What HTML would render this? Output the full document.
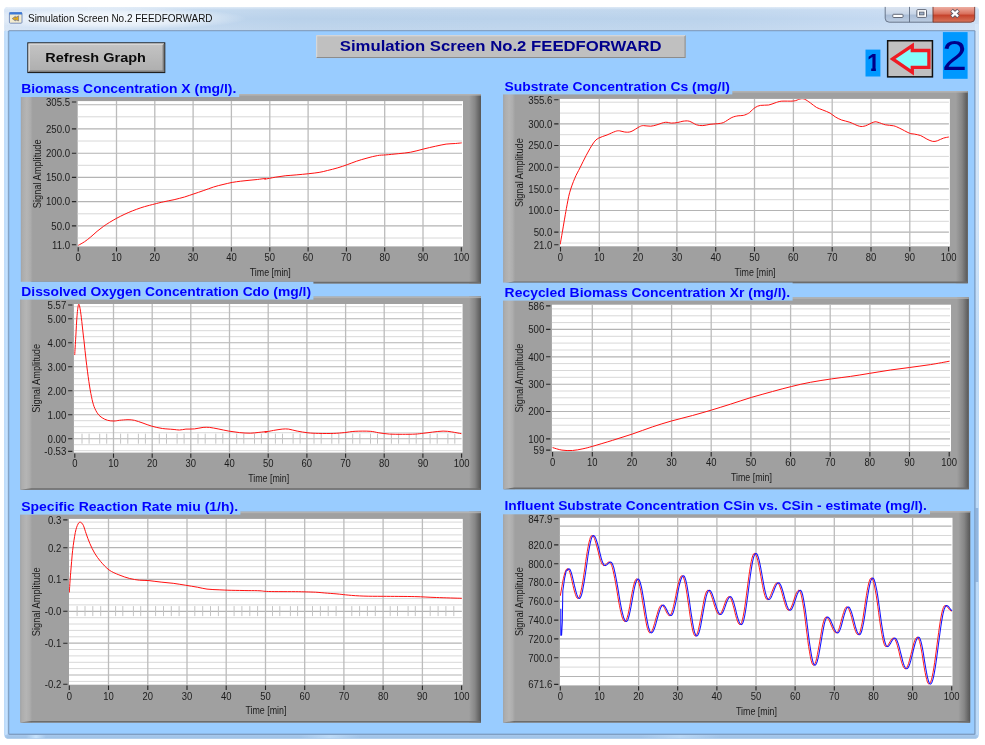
<!DOCTYPE html>
<html lang="en">
<head>
<meta charset="utf-8">
<title>Simulation Screen No.2 FEEDFORWARD</title>
<style>
html,body{margin:0;padding:0;background:#ffffff;overflow:hidden;}
svg{display:block;filter:blur(0.4px);font-family:"Liberation Sans",sans-serif;}
text{white-space:pre;}
</style>
</head>
<body>
<svg width="985" height="745" viewBox="0 0 985 745">
<defs>
<linearGradient id="gFrame" x1="0" y1="0" x2="0" y2="1"><stop offset="0" stop-color="#c6daf1"/><stop offset="1" stop-color="#a8caee"/></linearGradient>
<linearGradient id="gTitle" x1="0" y1="0" x2="1" y2="0"><stop offset="0" stop-color="#d4e3f5"/><stop offset="0.2" stop-color="#bed5ed"/><stop offset="0.3" stop-color="#b9d1ea"/><stop offset="0.72" stop-color="#bbd3ec"/><stop offset="0.9" stop-color="#c4d9f1"/><stop offset="1" stop-color="#cbdef4"/></linearGradient>
<linearGradient id="gTitleV" x1="0" y1="0" x2="0" y2="1"><stop offset="0" stop-color="#ffffff" stop-opacity="0.55"/><stop offset="0.12" stop-color="#ffffff" stop-opacity="0.12"/><stop offset="0.5" stop-color="#ffffff" stop-opacity="0"/><stop offset="1" stop-color="#ffffff" stop-opacity="0.12"/></linearGradient>
<radialGradient id="gGlow" cx="0.5" cy="0.5" r="0.5"><stop offset="0" stop-color="#ffffff" stop-opacity="0.85"/><stop offset="0.6" stop-color="#ffffff" stop-opacity="0.55"/><stop offset="1" stop-color="#ffffff" stop-opacity="0"/></radialGradient>
<linearGradient id="gSideL" x1="0" y1="0" x2="1" y2="0"><stop offset="0" stop-color="#b2d6fa"/><stop offset="0.45" stop-color="#cae4ff"/><stop offset="1" stop-color="#a6ccf0"/></linearGradient>
<linearGradient id="gSideR" x1="0" y1="0" x2="1" y2="0"><stop offset="0" stop-color="#a6ccf0"/><stop offset="0.55" stop-color="#c2defa"/><stop offset="1" stop-color="#b4d6f8"/></linearGradient>
<linearGradient id="gSideRT" x1="0" y1="0" x2="0" y2="1"><stop offset="0" stop-color="#d6e7f9"/><stop offset="0.6" stop-color="#d6e7f9" stop-opacity="0.8"/><stop offset="1" stop-color="#d6e7f9" stop-opacity="0"/></linearGradient>
<linearGradient id="gGlint" x1="0" y1="0" x2="1" y2="0"><stop offset="0" stop-color="#c6e2fc" stop-opacity="0"/><stop offset="0.5" stop-color="#c6e2fc" stop-opacity="1"/><stop offset="1" stop-color="#c6e2fc" stop-opacity="0"/></linearGradient>
<linearGradient id="gBot" x1="0" y1="0" x2="0" y2="1"><stop offset="0" stop-color="#aacbee"/><stop offset="1" stop-color="#9cbfe4"/></linearGradient>
<linearGradient id="gBtn" x1="0" y1="0" x2="0" y2="1"><stop offset="0" stop-color="#dde6f2"/><stop offset="0.48" stop-color="#c6d4e6"/><stop offset="0.52" stop-color="#a9bcd6"/><stop offset="1" stop-color="#bccde2"/></linearGradient>
<linearGradient id="gClose" x1="0" y1="0" x2="0" y2="1"><stop offset="0" stop-color="#eeb0a4"/><stop offset="0.45" stop-color="#d9705c"/><stop offset="0.55" stop-color="#c6432c"/><stop offset="1" stop-color="#d8765c"/></linearGradient>
<linearGradient id="gBtnFace" x1="0" y1="0" x2="0" y2="1"><stop offset="0" stop-color="#c4c4c4"/><stop offset="1" stop-color="#aeaeae"/></linearGradient>
<linearGradient id="gPL" x1="0" y1="0" x2="1" y2="0"><stop offset="0" stop-color="#a4a4a4"/><stop offset="0.15" stop-color="#adadad"/><stop offset="0.5" stop-color="#b5b5b5"/><stop offset="0.8" stop-color="#adadad"/><stop offset="1" stop-color="#a0a0a0"/></linearGradient>
<linearGradient id="gPR" x1="0" y1="0" x2="1" y2="0"><stop offset="0" stop-color="#a0a0a0"/><stop offset="0.5" stop-color="#868686"/><stop offset="1" stop-color="#565656"/></linearGradient>
</defs>
<rect x="0" y="0" width="985" height="745" fill="#ffffff"/>
<rect x="4.4" y="6.9" width="974.3" height="731.7" rx="3.5" ry="3.5" fill="url(#gFrame)"/>
<rect x="4.4" y="6.9" width="974.3" height="24.2" rx="3.5" ry="3.5" fill="url(#gTitle)"/>
<rect x="4.4" y="6.9" width="974.3" height="24.2" rx="3.5" ry="3.5" fill="url(#gTitleV)"/>
<ellipse cx="112" cy="18.5" rx="135" ry="11.5" fill="url(#gGlow)"/>
<rect x="4.4" y="31" width="4.2" height="704" fill="url(#gSideL)"/>
<rect x="975.0" y="31" width="3.7" height="704" fill="url(#gSideR)"/>
<rect x="975.0" y="24" width="3.7" height="330" fill="url(#gSideRT)"/>
<rect x="975.6" y="508" width="2.6" height="74" fill="#7fa6d6" opacity="0.7"/>
<rect x="6.5" y="734.4" width="970" height="4.2" fill="url(#gBot)"/>
<rect x="26" y="735" width="20" height="3.3" fill="url(#gGlint)"/>
<rect x="300" y="735" width="60" height="3.3" fill="url(#gGlint)" opacity="0.7"/>
<rect x="640" y="735" width="80" height="3.3" fill="url(#gGlint)" opacity="0.6"/>
<rect x="8.3" y="30.2" width="967.1" height="704.6" rx="1" fill="#7390b4"/>
<rect x="9.2" y="31.2" width="965.2" height="702.5" fill="#99ccff"/>
<rect x="9.4" y="12.6" width="12.6" height="10.6" rx="1" fill="#f3ecd0" stroke="#6c86b8" stroke-width="0.9"/>
<rect x="9.4" y="12.3" width="12.6" height="2.2" fill="#3a78d8"/>
<path d="M12.2,18.6 L15.4,16.2 L15.4,17.6 L18.6,15.8 L18.6,21 L15.4,19.8 L15.4,21 Z" fill="#e0a818" stroke="#4a5a9a" stroke-width="0.5"/>
<text x="28.00" y="21.50" font-size="11" fill="#101010" textLength="184.50" lengthAdjust="spacingAndGlyphs" >Simulation Screen No.2 FEEDFORWARD</text>
<path d="M885.2,6.9 L885.2,18.2 Q885.2,22.2 889.2,22.2 L933,22.2 L933,6.9 Z" fill="url(#gBtn)"/>
<path d="M933,6.9 L933,22.2 L970.7,22.2 Q974.7,22.2 974.7,18.2 L974.7,6.9 Z" fill="url(#gClose)"/>
<path d="M885.2,6.9 L885.2,18.2 Q885.2,22.2 889.2,22.2 L933,22.2" fill="none" stroke="#5d6b80" stroke-width="0.9"/>
<path d="M933,6.9 L933,22.2 L970.7,22.2 Q974.7,22.2 974.7,18.2 L974.7,6.9" fill="none" stroke="#70362e" stroke-width="0.9"/>
<line x1="909.5" y1="6.9" x2="909.5" y2="22.2" stroke="#5d6b80" stroke-width="0.9"/>
<rect x="892.8" y="14.3" width="10.2" height="3.2" rx="0.8" fill="#ffffff" stroke="#535a6a" stroke-width="0.9"/>
<rect x="916.9" y="9.6" width="9.6" height="7.8" rx="0.8" fill="#ffffff" stroke="#535a6a" stroke-width="0.9"/>
<rect x="919.4" y="12.1" width="4.6" height="2.8" fill="#9fb0c8" stroke="#535a6a" stroke-width="0.8"/>
<path d="M951.5,10.3 L958.5,16.7 M958.5,10.3 L951.5,16.7" stroke="#5c5663" stroke-width="4.0"/>
<path d="M951.9,10.7 L958.1,16.3 M958.1,10.7 L951.9,16.3" stroke="#ffffff" stroke-width="2.3"/>
<rect x="27.3" y="42.3" width="138" height="30.8" fill="#202020"/>
<rect x="28.4" y="43.4" width="135.8" height="28.6" fill="url(#gBtnFace)"/>
<path d="M28.4,72 L28.4,43.4 L164.2,43.4 L162.6,45 L30,45 L30,70.4 Z" fill="#d6d6d6"/>
<path d="M28.4,72 L164.2,72 L164.2,43.4 L162.6,45 L162.6,70.4 L30,70.4 Z" fill="#7e7e7e"/>
<text x="45.30" y="62.00" font-size="12.8" fill="#0a0a0a" font-weight="bold" textLength="100.60" lengthAdjust="spacingAndGlyphs" >Refresh Graph</text>
<rect x="316.2" y="35.2" width="369.4" height="22.9" fill="#c0c0c0"/>
<path d="M316.2,58.1 L316.2,35.2 L685.6,35.2 L684.6,36.2 L317.2,36.2 L317.2,57.1 Z" fill="#dcdcdc"/>
<path d="M316.2,58.1 L685.6,58.1 L685.6,35.2 L684.6,36.2 L684.6,57.1 L317.2,57.1 Z" fill="#8c8c8c"/>
<text x="339.80" y="51.00" font-size="14.5" fill="#00008c" font-weight="bold" textLength="321.80" lengthAdjust="spacingAndGlyphs" >Simulation Screen No.2 FEEDFORWARD</text>
<rect x="865.5" y="49.6" width="14.9" height="26.9" fill="#0098ff"/>
<clipPath id="cp1"><path d="M864,48 H882 V67.6 H875.9 V73 H871.2 V67.6 H864 Z"/></clipPath>
<text x="873.55" y="71.40" font-size="23.2" fill="#000088" font-weight="bold" text-anchor="middle" clip-path="url(#cp1)">1</text>
<rect x="886.9" y="40" width="46.3" height="37.6" fill="#101010"/>
<rect x="888.4" y="41.5" width="43.3" height="34.6" fill="#c0c0c0"/>
<path d="M892.6,58.9 L912.3,45.6 L912.3,50.5 L928.9,50.5 L928.9,67.4 L912.3,67.4 L912.3,72.4 Z" fill="#84fcfc" stroke="#ee1c24" stroke-width="3.3" stroke-linejoin="miter"/>
<rect x="942.9" y="32.1" width="24.7" height="46.7" fill="#0098ff"/>
<text x="954.50" y="69.90" font-size="42.8" fill="#000088" text-anchor="middle" textLength="25.00" lengthAdjust="spacingAndGlyphs" >2</text>
<rect x="20.9" y="94" width="460.1" height="189.4" fill="#a0a0a0"/>
<rect x="20.9" y="94" width="11.8" height="189.4" fill="url(#gPL)"/>
<rect x="469.0" y="94" width="12" height="189.4" fill="url(#gPR)"/>
<rect x="20.9" y="94" width="460.1" height="1.6" fill="#b6b6b6" opacity="0.8"/>
<path d="M20.9,283.4 L31.9,281.79999999999995 L480,281.79999999999995 L481,283.4 Z" fill="#6c6c6c"/>
<rect x="20.5" y="80" width="218.7" height="17.0" fill="#99ccff"/>
<text x="21.20" y="93.35" font-size="13.6" fill="#0000ff" font-weight="bold" textLength="215.10" lengthAdjust="spacingAndGlyphs" >Biomass Concentration X (mg/l).</text>
<rect x="77.7" y="101.1" width="385.3" height="145.3" fill="#ffffff"/>
<path d="M77.7,116.8H462M77.7,141.0H462M77.7,165.3H462M77.7,189.5H462M77.7,213.8H462M77.7,238.0H462" stroke="#d8d8d8" stroke-width="1" fill="none"/>
<path d="M77.7,104.7H462M77.7,128.9H462M77.7,153.2H462M77.7,177.4H462M77.7,201.6H462M77.7,225.9H462" stroke="#b4b4b4" stroke-width="1.15" fill="none"/>
<path d="M116.5,101.1V246.4M154.8,101.1V246.4M193.1,101.1V246.4M231.4,101.1V246.4M269.8,101.1V246.4M308.1,101.1V246.4M346.4,101.1V246.4M384.7,101.1V246.4M423.0,101.1V246.4" stroke="#bcbcbc" stroke-width="1.3" fill="none"/>
<clipPath id="cp77_101"><rect x="77.7" y="101.1" width="385.3" height="145.3"/></clipPath>
<path d="M78.3,245.3C79.4,244.7 82.5,243.1 84.6,241.7C86.6,240.3 88.7,238.7 90.8,236.9C92.9,235.2 95.0,233.1 97.1,231.3C99.1,229.6 101.2,228.0 103.3,226.5C105.4,225.0 107.3,223.8 109.5,222.4C111.8,221.0 114.4,219.5 116.8,218.2C119.3,216.9 121.5,215.7 124.1,214.5C126.7,213.2 129.7,212.0 132.4,210.9C135.2,209.8 138.2,208.7 140.8,207.8C143.4,206.9 145.8,206.3 148.0,205.7C150.3,205.1 151.7,204.7 154.3,204.1C156.9,203.4 160.4,202.5 163.7,201.8C166.9,201.0 170.6,200.5 174.1,199.7C177.5,198.9 181.2,197.9 184.5,197.0C187.8,196.0 190.7,194.9 193.8,193.9C197.0,192.8 199.9,191.9 203.2,190.7C206.5,189.6 210.3,188.0 213.6,187.0C216.9,185.9 219.8,185.3 223.0,184.5C226.1,183.7 229.4,183.0 232.3,182.4C235.3,181.9 237.9,181.5 240.7,181.2C243.4,180.8 246.2,180.6 249.0,180.3C251.8,180.1 254.5,179.8 257.3,179.5C260.1,179.2 264.3,178.5 265.6,178.5C266.9,178.4 263.4,179.3 265.0,179.1C266.6,178.9 271.9,177.8 275.4,177.2C278.9,176.7 282.3,176.1 285.8,175.7C289.3,175.4 292.4,175.3 296.2,174.9C300.0,174.6 304.9,174.1 308.7,173.7C312.5,173.3 316.0,172.9 319.1,172.4C322.2,171.9 324.3,171.3 327.4,170.5C330.6,169.8 334.5,168.8 337.8,167.8C341.1,166.9 344.1,165.8 347.2,164.7C350.3,163.6 353.3,162.3 356.6,161.2C359.9,160.1 363.5,159.0 367.0,158.1C370.4,157.1 374.3,156.1 377.4,155.6C380.5,155.0 382.2,155.2 385.7,154.9C389.2,154.6 394.0,154.1 398.2,153.7C402.4,153.2 406.5,153.0 410.7,152.2C414.8,151.5 419.0,150.1 423.2,149.1C427.3,148.1 431.8,147.0 435.7,146.2C439.5,145.4 442.8,144.6 446.1,144.1C449.4,143.7 452.8,143.7 455.4,143.5C458.0,143.3 460.6,143.0 461.7,142.9" stroke="#ff1010" stroke-width="1.0" fill="none" stroke-linejoin="round" clip-path="url(#cp77_101)"/>
<text x="70.10" y="105.85" font-size="11" fill="#1c1c1c" text-anchor="end" textLength="24.09" lengthAdjust="spacingAndGlyphs" >305.5</text>
<text x="70.10" y="132.76" font-size="11" fill="#1c1c1c" text-anchor="end" textLength="24.09" lengthAdjust="spacingAndGlyphs" >250.0</text>
<text x="70.10" y="157.01" font-size="11" fill="#1c1c1c" text-anchor="end" textLength="24.09" lengthAdjust="spacingAndGlyphs" >200.0</text>
<text x="70.10" y="181.25" font-size="11" fill="#1c1c1c" text-anchor="end" textLength="24.09" lengthAdjust="spacingAndGlyphs" >150.0</text>
<text x="70.10" y="205.49" font-size="11" fill="#1c1c1c" text-anchor="end" textLength="24.09" lengthAdjust="spacingAndGlyphs" >100.0</text>
<text x="70.10" y="229.74" font-size="11" fill="#1c1c1c" text-anchor="end" textLength="18.73" lengthAdjust="spacingAndGlyphs" >50.0</text>
<text x="70.10" y="248.65" font-size="11" fill="#1c1c1c" text-anchor="end" textLength="18.02" lengthAdjust="spacingAndGlyphs" >11.0</text>
<text x="78.20" y="261.20" font-size="11" fill="#1c1c1c" text-anchor="middle" textLength="5.26" lengthAdjust="spacingAndGlyphs" >0</text>
<text x="116.51" y="261.20" font-size="11" fill="#1c1c1c" text-anchor="middle" textLength="10.52" lengthAdjust="spacingAndGlyphs" >10</text>
<text x="154.82" y="261.20" font-size="11" fill="#1c1c1c" text-anchor="middle" textLength="10.52" lengthAdjust="spacingAndGlyphs" >20</text>
<text x="193.13" y="261.20" font-size="11" fill="#1c1c1c" text-anchor="middle" textLength="10.52" lengthAdjust="spacingAndGlyphs" >30</text>
<text x="231.44" y="261.20" font-size="11" fill="#1c1c1c" text-anchor="middle" textLength="10.52" lengthAdjust="spacingAndGlyphs" >40</text>
<text x="269.75" y="261.20" font-size="11" fill="#1c1c1c" text-anchor="middle" textLength="10.52" lengthAdjust="spacingAndGlyphs" >50</text>
<text x="308.06" y="261.20" font-size="11" fill="#1c1c1c" text-anchor="middle" textLength="10.52" lengthAdjust="spacingAndGlyphs" >60</text>
<text x="346.37" y="261.20" font-size="11" fill="#1c1c1c" text-anchor="middle" textLength="10.52" lengthAdjust="spacingAndGlyphs" >70</text>
<text x="384.68" y="261.20" font-size="11" fill="#1c1c1c" text-anchor="middle" textLength="10.52" lengthAdjust="spacingAndGlyphs" >80</text>
<text x="422.99" y="261.20" font-size="11" fill="#1c1c1c" text-anchor="middle" textLength="10.52" lengthAdjust="spacingAndGlyphs" >90</text>
<text x="461.30" y="261.20" font-size="11" fill="#1c1c1c" text-anchor="middle" textLength="15.78" lengthAdjust="spacingAndGlyphs" >100</text>
<path d="M71.9,102.0H76.2M71.9,128.9H76.2M71.9,153.2H76.2M71.9,177.4H76.2M71.9,201.6H76.2M71.9,225.9H76.2M71.9,244.8H76.2M78.2,247.2V251.6M116.5,247.2V251.6M154.8,247.2V251.6M193.1,247.2V251.6M231.4,247.2V251.6M269.8,247.2V251.6M308.1,247.2V251.6M346.4,247.2V251.6M384.7,247.2V251.6M423.0,247.2V251.6M461.3,247.2V251.6" stroke="#262626" stroke-width="1.1" fill="none"/>
<text x="270.25" y="275.90" font-size="10.8" fill="#1c1c1c" text-anchor="middle" textLength="41.00" lengthAdjust="spacingAndGlyphs" >Time [min]</text>
<text x="0.00" y="0.00" font-size="10.8" fill="#1c1c1c" text-anchor="middle" textLength="68.80" lengthAdjust="spacingAndGlyphs" transform="translate(40.7,173.8) rotate(-90)">Signal Amplitude</text>
<rect x="503.3" y="91" width="464.5" height="192.2" fill="#a0a0a0"/>
<rect x="503.3" y="91" width="11.8" height="192.2" fill="url(#gPL)"/>
<rect x="955.8" y="91" width="12" height="192.2" fill="url(#gPR)"/>
<rect x="503.3" y="91" width="464.5" height="1.6" fill="#b6b6b6" opacity="0.8"/>
<path d="M503.3,283.2 L514.3,281.59999999999997 L966.8,281.59999999999997 L967.8,283.2 Z" fill="#6c6c6c"/>
<rect x="503" y="78" width="229.3" height="16.4" fill="#99ccff"/>
<text x="504.60" y="90.55" font-size="13.6" fill="#0000ff" font-weight="bold" textLength="225.30" lengthAdjust="spacingAndGlyphs" >Substrate Concentration Cs (mg/l)</text>
<rect x="560" y="98.9" width="389.9" height="147.4" fill="#ffffff"/>
<path d="M560,102.2H948.9M560,113.1H948.9M560,134.7H948.9M560,156.4H948.9M560,178.0H948.9M560,199.7H948.9M560,221.3H948.9M560,243.0H948.9" stroke="#d8d8d8" stroke-width="1" fill="none"/>
<path d="M560,123.9H948.9M560,145.5H948.9M560,167.2H948.9M560,188.8H948.9M560,210.5H948.9M560,232.1H948.9" stroke="#b4b4b4" stroke-width="1.15" fill="none"/>
<path d="M599.3,98.9V246.3M638.1,98.9V246.3M676.9,98.9V246.3M715.7,98.9V246.3M754.5,98.9V246.3M793.4,98.9V246.3M832.2,98.9V246.3M871.0,98.9V246.3M909.8,98.9V246.3" stroke="#bcbcbc" stroke-width="1.3" fill="none"/>
<clipPath id="cp560_98"><rect x="560" y="98.9" width="389.9" height="147.4"/></clipPath>
<path d="M560.2,244.4C560.5,242.4 561.6,236.4 562.3,232.4C563.0,228.3 563.7,223.9 564.4,219.9C565.1,215.9 565.6,212.9 566.4,208.4C567.3,203.9 568.2,197.8 569.6,192.8C571.0,187.8 573.0,182.4 574.8,178.2C576.5,174.1 578.1,171.7 580.0,167.8C581.9,164.0 584.0,159.5 586.2,155.4C588.5,151.2 591.4,145.7 593.5,142.9C595.6,140.0 596.4,139.4 598.7,138.1C601.0,136.8 604.3,136.1 607.0,135.0C609.8,133.8 613.3,132.1 615.4,131.4C617.4,130.7 618.0,130.7 619.5,130.8C621.1,130.9 622.8,131.9 624.7,132.0C626.6,132.2 628.5,132.5 631.0,131.6C633.4,130.8 637.2,127.8 639.3,126.8C641.4,125.8 641.5,125.7 643.4,125.6C645.4,125.5 648.5,126.4 650.7,126.2C653.0,126.1 654.5,125.4 657.0,124.8C659.4,124.1 662.9,122.5 665.3,122.3C667.7,122.0 669.5,123.1 671.5,123.1C673.6,123.1 675.9,122.8 677.8,122.5C679.7,122.2 681.1,121.4 683.0,121.2C684.9,121.0 687.0,120.6 689.2,121.2C691.5,121.8 694.3,124.0 696.5,124.8C698.8,125.5 700.5,125.7 702.8,125.6C705.0,125.5 707.6,124.7 710.0,124.3C712.5,124.0 715.1,124.0 717.3,123.7C719.6,123.4 721.1,123.5 723.6,122.5C726.0,121.4 729.5,118.6 731.9,117.5C734.3,116.4 736.2,116.2 738.1,115.8C740.1,115.5 741.6,115.8 743.3,115.4C745.1,115.0 747.4,113.9 748.5,113.3C749.7,112.8 748.9,113.0 750.0,112.1C751.1,111.1 753.5,108.6 755.2,107.5C756.9,106.4 758.2,105.8 760.4,105.4C762.7,105.0 766.3,105.4 768.7,105.0C771.2,104.6 772.9,103.5 775.0,102.9C777.1,102.3 778.1,101.6 781.2,101.2C784.3,100.9 790.6,101.4 793.7,101.0C796.8,100.7 798.1,99.3 799.9,99.0C801.8,98.6 802.8,98.5 804.5,99.2C806.3,99.8 808.3,101.5 810.4,102.9C812.4,104.3 814.5,106.3 816.6,107.5C818.7,108.7 820.6,109.0 822.8,110.0C825.1,110.9 828.0,112.0 830.1,113.1C832.2,114.3 833.4,115.7 835.3,116.9C837.2,118.0 839.1,119.1 841.6,120.0C844.0,120.9 846.9,121.2 849.9,122.3C852.8,123.3 856.7,125.6 859.3,126.2C861.9,126.8 863.1,126.5 865.5,125.8C867.9,125.1 871.7,122.6 873.8,122.1C875.9,121.5 876.1,121.8 878.0,122.3C879.9,122.7 882.7,124.2 885.3,124.8C887.9,125.4 891.2,125.2 893.6,125.8C896.0,126.4 897.2,127.1 899.8,128.3C902.4,129.5 906.8,132.1 909.2,133.1C911.6,134.1 912.5,133.7 914.4,134.1C916.3,134.5 918.6,134.8 920.7,135.6C922.7,136.4 924.9,138.1 926.9,139.1C928.9,140.1 931.0,141.1 932.7,141.4C934.5,141.7 935.5,141.3 937.3,140.8C939.1,140.2 941.6,138.7 943.5,138.1C945.5,137.5 947.9,137.2 948.8,137.0" stroke="#ff1010" stroke-width="1.0" fill="none" stroke-linejoin="round" clip-path="url(#cp560_98)"/>
<text x="552.40" y="103.65" font-size="11" fill="#1c1c1c" text-anchor="end" textLength="24.09" lengthAdjust="spacingAndGlyphs" >355.6</text>
<text x="552.40" y="127.73" font-size="11" fill="#1c1c1c" text-anchor="end" textLength="24.09" lengthAdjust="spacingAndGlyphs" >300.0</text>
<text x="552.40" y="149.38" font-size="11" fill="#1c1c1c" text-anchor="end" textLength="24.09" lengthAdjust="spacingAndGlyphs" >250.0</text>
<text x="552.40" y="171.03" font-size="11" fill="#1c1c1c" text-anchor="end" textLength="24.09" lengthAdjust="spacingAndGlyphs" >200.0</text>
<text x="552.40" y="192.69" font-size="11" fill="#1c1c1c" text-anchor="end" textLength="24.09" lengthAdjust="spacingAndGlyphs" >150.0</text>
<text x="552.40" y="214.34" font-size="11" fill="#1c1c1c" text-anchor="end" textLength="24.09" lengthAdjust="spacingAndGlyphs" >100.0</text>
<text x="552.40" y="235.99" font-size="11" fill="#1c1c1c" text-anchor="end" textLength="18.73" lengthAdjust="spacingAndGlyphs" >50.0</text>
<text x="552.40" y="248.55" font-size="11" fill="#1c1c1c" text-anchor="end" textLength="18.73" lengthAdjust="spacingAndGlyphs" >21.0</text>
<text x="560.50" y="261.10" font-size="11" fill="#1c1c1c" text-anchor="middle" textLength="5.26" lengthAdjust="spacingAndGlyphs" >0</text>
<text x="599.31" y="261.10" font-size="11" fill="#1c1c1c" text-anchor="middle" textLength="10.52" lengthAdjust="spacingAndGlyphs" >10</text>
<text x="638.12" y="261.10" font-size="11" fill="#1c1c1c" text-anchor="middle" textLength="10.52" lengthAdjust="spacingAndGlyphs" >20</text>
<text x="676.93" y="261.10" font-size="11" fill="#1c1c1c" text-anchor="middle" textLength="10.52" lengthAdjust="spacingAndGlyphs" >30</text>
<text x="715.74" y="261.10" font-size="11" fill="#1c1c1c" text-anchor="middle" textLength="10.52" lengthAdjust="spacingAndGlyphs" >40</text>
<text x="754.55" y="261.10" font-size="11" fill="#1c1c1c" text-anchor="middle" textLength="10.52" lengthAdjust="spacingAndGlyphs" >50</text>
<text x="793.36" y="261.10" font-size="11" fill="#1c1c1c" text-anchor="middle" textLength="10.52" lengthAdjust="spacingAndGlyphs" >60</text>
<text x="832.17" y="261.10" font-size="11" fill="#1c1c1c" text-anchor="middle" textLength="10.52" lengthAdjust="spacingAndGlyphs" >70</text>
<text x="870.98" y="261.10" font-size="11" fill="#1c1c1c" text-anchor="middle" textLength="10.52" lengthAdjust="spacingAndGlyphs" >80</text>
<text x="909.79" y="261.10" font-size="11" fill="#1c1c1c" text-anchor="middle" textLength="10.52" lengthAdjust="spacingAndGlyphs" >90</text>
<text x="948.60" y="261.10" font-size="11" fill="#1c1c1c" text-anchor="middle" textLength="15.78" lengthAdjust="spacingAndGlyphs" >100</text>
<path d="M554.2,99.8H558.5M554.2,123.9H558.5M554.2,145.5H558.5M554.2,167.2H558.5M554.2,188.8H558.5M554.2,210.5H558.5M554.2,232.1H558.5M554.2,244.7H558.5M560.5,247.1V251.5M599.3,247.1V251.5M638.1,247.1V251.5M676.9,247.1V251.5M715.7,247.1V251.5M754.5,247.1V251.5M793.4,247.1V251.5M832.2,247.1V251.5M871.0,247.1V251.5M909.8,247.1V251.5M948.6,247.1V251.5" stroke="#262626" stroke-width="1.1" fill="none"/>
<text x="755.05" y="275.80" font-size="10.8" fill="#1c1c1c" text-anchor="middle" textLength="41.00" lengthAdjust="spacingAndGlyphs" >Time [min]</text>
<text x="0.00" y="0.00" font-size="10.8" fill="#1c1c1c" text-anchor="middle" textLength="68.80" lengthAdjust="spacingAndGlyphs" transform="translate(523.1,172.6) rotate(-90)">Signal Amplitude</text>
<rect x="20.3" y="296.5" width="460.7" height="193.3" fill="#a0a0a0"/>
<rect x="20.3" y="296.5" width="11.8" height="193.3" fill="url(#gPL)"/>
<rect x="469.0" y="296.5" width="12" height="193.3" fill="url(#gPR)"/>
<rect x="20.3" y="296.5" width="460.7" height="1.6" fill="#b6b6b6" opacity="0.8"/>
<path d="M20.3,489.8 L31.3,488.2 L480,488.2 L481,489.8 Z" fill="#6c6c6c"/>
<rect x="20" y="281.8" width="293.4" height="17.8" fill="#99ccff"/>
<text x="21.30" y="296.05" font-size="13.6" fill="#0000ff" font-weight="bold" textLength="289.70" lengthAdjust="spacingAndGlyphs" >Dissolved Oxygen Concentration Cdo (mg/l)</text>
<rect x="73.9" y="304" width="388.7" height="148.6" fill="#ffffff"/>
<path d="M73.9,450.7H461.6M73.9,444.7H461.6M73.9,432.7H461.6M73.9,426.7H461.6M73.9,420.7H461.6M73.9,408.7H461.6M73.9,402.7H461.6M73.9,396.7H461.6M73.9,384.7H461.6M73.9,378.7H461.6M73.9,372.7H461.6M73.9,360.7H461.6M73.9,354.7H461.6M73.9,348.7H461.6M73.9,336.7H461.6M73.9,330.7H461.6M73.9,324.7H461.6M73.9,312.7H461.6M73.9,306.7H461.6" stroke="#d8d8d8" stroke-width="1" fill="none"/>
<path d="M73.9,318.7H461.6M73.9,342.7H461.6M73.9,366.7H461.6M73.9,390.7H461.6M73.9,414.7H461.6M73.9,438.7H461.6" stroke="#b4b4b4" stroke-width="1.15" fill="none"/>
<path d="M113.5,304V452.6M152.2,304V452.6M190.8,304V452.6M229.5,304V452.6M268.2,304V452.6M306.9,304V452.6M345.6,304V452.6M384.2,304V452.6M422.9,304V452.6" stroke="#bcbcbc" stroke-width="1.3" fill="none"/>
<path d="M82.0,433.7V443.7M89.1,433.7V443.7M99.7,433.7V443.7M106.7,433.7V443.7M120.6,433.7V443.7M127.8,433.7V443.7M138.4,433.7V443.7M145.4,433.7V443.7M159.3,433.7V443.7M166.5,433.7V443.7M177.1,433.7V443.7M184.1,433.7V443.7M198.0,433.7V443.7M205.2,433.7V443.7M215.8,433.7V443.7M222.8,433.7V443.7M236.7,433.7V443.7M243.8,433.7V443.7M254.5,433.7V443.7M261.4,433.7V443.7M275.4,433.7V443.7M282.5,433.7V443.7M293.1,433.7V443.7M300.1,433.7V443.7M314.0,433.7V443.7M321.2,433.7V443.7M331.8,433.7V443.7M338.8,433.7V443.7M352.7,433.7V443.7M359.9,433.7V443.7M370.5,433.7V443.7M377.5,433.7V443.7M391.4,433.7V443.7M398.6,433.7V443.7M409.2,433.7V443.7M416.2,433.7V443.7M430.1,433.7V443.7M437.2,433.7V443.7M447.9,433.7V443.7M454.8,433.7V443.7" stroke="#c4c4c4" stroke-width="1" fill="none"/>
<clipPath id="cp73_304"><rect x="73.9" y="304" width="388.7" height="148.6"/></clipPath>
<path d="M74.7,354.9C74.9,351.8 75.4,343.3 75.8,336.6C76.2,330.0 76.6,320.5 77.1,315.2C77.5,309.8 78.1,305.5 78.6,304.4C79.1,303.4 79.6,305.9 80.1,308.7C80.6,311.6 81.2,316.2 81.8,321.6C82.4,327.0 83.2,334.5 84.0,340.9C84.7,347.4 85.3,353.4 86.1,360.2C86.9,367.0 88.0,375.6 88.9,381.7C89.8,387.8 90.6,392.6 91.5,396.7C92.3,400.8 93.0,403.5 94.0,406.4C95.1,409.3 96.5,412.0 97.9,413.9C99.3,415.8 100.6,416.7 102.2,417.8C103.8,418.8 105.6,419.8 107.6,420.3C109.5,420.9 112.0,421.0 114.0,421.0C116.0,421.0 117.0,420.6 119.4,420.3C121.7,420.1 125.4,419.7 128.0,419.7C130.5,419.7 131.9,419.8 134.4,420.3C136.9,420.9 140.1,422.2 143.0,423.1C145.8,424.1 148.3,425.2 151.6,426.1C154.8,427.0 158.7,428.0 162.3,428.5C165.9,429.0 170.2,429.1 173.0,429.4C175.9,429.6 177.3,430.0 179.5,430.0C181.6,430.0 183.4,429.3 185.9,429.1C188.4,429.0 191.6,429.2 194.5,428.9C197.4,428.6 200.6,427.7 203.1,427.4C205.6,427.2 207.0,427.2 209.5,427.4C212.0,427.7 214.9,428.3 218.1,428.9C221.3,429.5 225.3,430.5 228.8,431.1C232.4,431.7 236.0,432.2 239.6,432.6C243.1,432.9 247.1,433.3 250.3,433.2C253.5,433.2 256.0,432.6 258.9,432.4C261.7,432.1 266.4,431.5 267.5,431.5C268.5,431.5 264.0,432.3 265.0,432.1C266.0,432.0 270.7,430.9 273.6,430.4C276.4,429.9 279.7,429.4 282.2,429.1C284.7,428.9 286.1,428.8 288.6,429.1C291.1,429.5 294.0,430.5 297.2,431.1C300.4,431.7 304.4,432.4 307.9,432.8C311.5,433.2 314.4,433.3 318.7,433.4C323.0,433.5 329.4,433.6 333.7,433.4C338.0,433.3 340.8,432.9 344.4,432.6C348.0,432.2 350.9,431.5 355.1,431.3C359.4,431.1 366.2,431.0 370.2,431.3C374.1,431.5 375.5,432.3 378.8,432.8C382.0,433.3 385.6,433.8 389.5,434.1C393.4,434.3 398.1,434.3 402.4,434.3C406.7,434.3 411.7,434.3 415.2,434.1C418.8,433.9 421.0,433.5 423.8,433.2C426.7,432.9 429.2,432.5 432.4,432.1C435.6,431.8 439.9,431.1 443.1,431.1C446.4,431.0 448.7,431.5 451.7,431.9C454.8,432.4 459.8,433.4 461.4,433.7" stroke="#ff1010" stroke-width="1.0" fill="none" stroke-linejoin="round" clip-path="url(#cp73_304)"/>
<text x="66.30" y="308.85" font-size="11" fill="#1c1c1c" text-anchor="end" textLength="18.73" lengthAdjust="spacingAndGlyphs" >5.57</text>
<text x="66.30" y="322.53" font-size="11" fill="#1c1c1c" text-anchor="end" textLength="18.73" lengthAdjust="spacingAndGlyphs" >5.00</text>
<text x="66.30" y="346.53" font-size="11" fill="#1c1c1c" text-anchor="end" textLength="18.73" lengthAdjust="spacingAndGlyphs" >4.00</text>
<text x="66.30" y="370.53" font-size="11" fill="#1c1c1c" text-anchor="end" textLength="18.73" lengthAdjust="spacingAndGlyphs" >3.00</text>
<text x="66.30" y="394.53" font-size="11" fill="#1c1c1c" text-anchor="end" textLength="18.73" lengthAdjust="spacingAndGlyphs" >2.00</text>
<text x="66.30" y="418.53" font-size="11" fill="#1c1c1c" text-anchor="end" textLength="18.73" lengthAdjust="spacingAndGlyphs" >1.00</text>
<text x="66.30" y="442.53" font-size="11" fill="#1c1c1c" text-anchor="end" textLength="18.73" lengthAdjust="spacingAndGlyphs" >0.00</text>
<text x="66.30" y="455.25" font-size="11" fill="#1c1c1c" text-anchor="end" textLength="21.94" lengthAdjust="spacingAndGlyphs" >-0.53</text>
<text x="74.80" y="467.40" font-size="11" fill="#1c1c1c" text-anchor="middle" textLength="5.26" lengthAdjust="spacingAndGlyphs" >0</text>
<text x="113.48" y="467.40" font-size="11" fill="#1c1c1c" text-anchor="middle" textLength="10.52" lengthAdjust="spacingAndGlyphs" >10</text>
<text x="152.16" y="467.40" font-size="11" fill="#1c1c1c" text-anchor="middle" textLength="10.52" lengthAdjust="spacingAndGlyphs" >20</text>
<text x="190.84" y="467.40" font-size="11" fill="#1c1c1c" text-anchor="middle" textLength="10.52" lengthAdjust="spacingAndGlyphs" >30</text>
<text x="229.52" y="467.40" font-size="11" fill="#1c1c1c" text-anchor="middle" textLength="10.52" lengthAdjust="spacingAndGlyphs" >40</text>
<text x="268.20" y="467.40" font-size="11" fill="#1c1c1c" text-anchor="middle" textLength="10.52" lengthAdjust="spacingAndGlyphs" >50</text>
<text x="306.88" y="467.40" font-size="11" fill="#1c1c1c" text-anchor="middle" textLength="10.52" lengthAdjust="spacingAndGlyphs" >60</text>
<text x="345.56" y="467.40" font-size="11" fill="#1c1c1c" text-anchor="middle" textLength="10.52" lengthAdjust="spacingAndGlyphs" >70</text>
<text x="384.24" y="467.40" font-size="11" fill="#1c1c1c" text-anchor="middle" textLength="10.52" lengthAdjust="spacingAndGlyphs" >80</text>
<text x="422.92" y="467.40" font-size="11" fill="#1c1c1c" text-anchor="middle" textLength="10.52" lengthAdjust="spacingAndGlyphs" >90</text>
<text x="461.60" y="467.40" font-size="11" fill="#1c1c1c" text-anchor="middle" textLength="15.78" lengthAdjust="spacingAndGlyphs" >100</text>
<path d="M68.1,305.0H72.4M68.1,318.7H72.4M68.1,342.7H72.4M68.1,366.7H72.4M68.1,390.7H72.4M68.1,414.7H72.4M68.1,438.7H72.4M68.1,451.4H72.4M74.8,453.4V457.8M113.5,453.4V457.8M152.2,453.4V457.8M190.8,453.4V457.8M229.5,453.4V457.8M268.2,453.4V457.8M306.9,453.4V457.8M345.6,453.4V457.8M384.2,453.4V457.8M422.9,453.4V457.8M461.6,453.4V457.8" stroke="#262626" stroke-width="1.1" fill="none"/>
<text x="268.70" y="482.10" font-size="10.8" fill="#1c1c1c" text-anchor="middle" textLength="41.00" lengthAdjust="spacingAndGlyphs" >Time [min]</text>
<text x="0.00" y="0.00" font-size="10.8" fill="#1c1c1c" text-anchor="middle" textLength="68.80" lengthAdjust="spacingAndGlyphs" transform="translate(40.1,378.3) rotate(-90)">Signal Amplitude</text>
<rect x="503.2" y="297.3" width="465.6" height="191.9" fill="#a0a0a0"/>
<rect x="503.2" y="297.3" width="11.8" height="191.9" fill="url(#gPL)"/>
<rect x="956.8" y="297.3" width="12" height="191.9" fill="url(#gPR)"/>
<rect x="503.2" y="297.3" width="465.6" height="1.6" fill="#b6b6b6" opacity="0.8"/>
<path d="M503.2,489.2 L514.2,487.59999999999997 L967.8,487.59999999999997 L968.8,489.2 Z" fill="#6c6c6c"/>
<rect x="503" y="282.6" width="289.6" height="18.0" fill="#99ccff"/>
<text x="504.60" y="296.75" font-size="13.6" fill="#0000ff" font-weight="bold" textLength="285.50" lengthAdjust="spacingAndGlyphs" >Recycled Biomass Concentration Xr (mg/l).</text>
<rect x="551.9" y="304.7" width="399.1" height="146.6" fill="#ffffff"/>
<path d="M551.9,445.7H950M551.9,432.0H950M551.9,425.2H950M551.9,418.4H950M551.9,404.7H950M551.9,397.8H950M551.9,391.0H950M551.9,377.3H950M551.9,370.5H950M551.9,363.6H950M551.9,350.0H950M551.9,343.1H950M551.9,336.3H950M551.9,322.6H950M551.9,315.8H950M551.9,308.9H950" stroke="#d8d8d8" stroke-width="1" fill="none"/>
<path d="M551.9,329.4H950M551.9,356.8H950M551.9,384.2H950M551.9,411.5H950M551.9,438.9H950" stroke="#b4b4b4" stroke-width="1.15" fill="none"/>
<path d="M592.3,304.7V451.3M631.9,304.7V451.3M671.6,304.7V451.3M711.2,304.7V451.3M750.9,304.7V451.3M790.6,304.7V451.3M830.2,304.7V451.3M869.9,304.7V451.3M909.5,304.7V451.3" stroke="#bcbcbc" stroke-width="1.3" fill="none"/>
<clipPath id="cp551_304"><rect x="551.9" y="304.7" width="399.1" height="146.6"/></clipPath>
<path d="M552.6,447.6C554.1,448.0 558.6,449.6 561.9,450.1C565.2,450.6 568.9,450.7 572.4,450.5C575.9,450.3 579.5,449.5 582.9,448.8C586.3,448.1 587.7,447.7 592.6,446.3C597.5,444.9 605.8,442.4 612.4,440.4C619.0,438.4 625.5,436.3 632.2,434.1C638.9,431.8 645.9,429.1 652.4,426.9C659.0,424.7 664.7,422.9 671.4,421.0C678.1,419.1 685.8,417.4 692.5,415.5C699.1,413.7 705.1,412.0 711.4,410.1C717.7,408.2 723.7,406.3 730.4,404.2C737.1,402.1 744.4,399.5 751.4,397.4C758.5,395.3 765.8,393.4 772.5,391.5C779.2,389.7 785.2,388.0 791.5,386.5C797.8,384.9 803.8,383.5 810.4,382.3C817.1,381.0 824.8,379.9 831.5,378.9C838.2,377.9 844.1,377.3 850.5,376.4C856.8,375.5 862.7,374.5 869.4,373.4C876.1,372.4 883.8,371.0 890.5,370.0C897.2,369.1 902.8,368.4 909.4,367.5C916.1,366.6 923.8,365.6 930.5,364.6C937.2,363.5 946.3,361.8 949.5,361.2" stroke="#ff1010" stroke-width="1.0" fill="none" stroke-linejoin="round" clip-path="url(#cp551_304)"/>
<text x="544.30" y="309.75" font-size="11" fill="#1c1c1c" text-anchor="end" textLength="16.06" lengthAdjust="spacingAndGlyphs" >586</text>
<text x="544.30" y="333.28" font-size="11" fill="#1c1c1c" text-anchor="end" textLength="16.06" lengthAdjust="spacingAndGlyphs" >500</text>
<text x="544.30" y="360.64" font-size="11" fill="#1c1c1c" text-anchor="end" textLength="16.06" lengthAdjust="spacingAndGlyphs" >400</text>
<text x="544.30" y="388.01" font-size="11" fill="#1c1c1c" text-anchor="end" textLength="16.06" lengthAdjust="spacingAndGlyphs" >300</text>
<text x="544.30" y="415.37" font-size="11" fill="#1c1c1c" text-anchor="end" textLength="16.06" lengthAdjust="spacingAndGlyphs" >200</text>
<text x="544.30" y="442.73" font-size="11" fill="#1c1c1c" text-anchor="end" textLength="16.06" lengthAdjust="spacingAndGlyphs" >100</text>
<text x="544.30" y="453.95" font-size="11" fill="#1c1c1c" text-anchor="end" textLength="10.71" lengthAdjust="spacingAndGlyphs" >59</text>
<text x="552.60" y="466.10" font-size="11" fill="#1c1c1c" text-anchor="middle" textLength="5.26" lengthAdjust="spacingAndGlyphs" >0</text>
<text x="592.26" y="466.10" font-size="11" fill="#1c1c1c" text-anchor="middle" textLength="10.52" lengthAdjust="spacingAndGlyphs" >10</text>
<text x="631.92" y="466.10" font-size="11" fill="#1c1c1c" text-anchor="middle" textLength="10.52" lengthAdjust="spacingAndGlyphs" >20</text>
<text x="671.58" y="466.10" font-size="11" fill="#1c1c1c" text-anchor="middle" textLength="10.52" lengthAdjust="spacingAndGlyphs" >30</text>
<text x="711.24" y="466.10" font-size="11" fill="#1c1c1c" text-anchor="middle" textLength="10.52" lengthAdjust="spacingAndGlyphs" >40</text>
<text x="750.90" y="466.10" font-size="11" fill="#1c1c1c" text-anchor="middle" textLength="10.52" lengthAdjust="spacingAndGlyphs" >50</text>
<text x="790.56" y="466.10" font-size="11" fill="#1c1c1c" text-anchor="middle" textLength="10.52" lengthAdjust="spacingAndGlyphs" >60</text>
<text x="830.22" y="466.10" font-size="11" fill="#1c1c1c" text-anchor="middle" textLength="10.52" lengthAdjust="spacingAndGlyphs" >70</text>
<text x="869.88" y="466.10" font-size="11" fill="#1c1c1c" text-anchor="middle" textLength="10.52" lengthAdjust="spacingAndGlyphs" >80</text>
<text x="909.54" y="466.10" font-size="11" fill="#1c1c1c" text-anchor="middle" textLength="10.52" lengthAdjust="spacingAndGlyphs" >90</text>
<text x="949.20" y="466.10" font-size="11" fill="#1c1c1c" text-anchor="middle" textLength="15.78" lengthAdjust="spacingAndGlyphs" >100</text>
<path d="M546.1,305.9H550.4M546.1,329.4H550.4M546.1,356.8H550.4M546.1,384.2H550.4M546.1,411.5H550.4M546.1,438.9H550.4M546.1,450.1H550.4M552.6,452.1V456.5M592.3,452.1V456.5M631.9,452.1V456.5M671.6,452.1V456.5M711.2,452.1V456.5M750.9,452.1V456.5M790.6,452.1V456.5M830.2,452.1V456.5M869.9,452.1V456.5M909.5,452.1V456.5M949.2,452.1V456.5" stroke="#262626" stroke-width="1.1" fill="none"/>
<text x="751.40" y="480.80" font-size="10.8" fill="#1c1c1c" text-anchor="middle" textLength="41.00" lengthAdjust="spacingAndGlyphs" >Time [min]</text>
<text x="0.00" y="0.00" font-size="10.8" fill="#1c1c1c" text-anchor="middle" textLength="68.80" lengthAdjust="spacingAndGlyphs" transform="translate(523.0,378.0) rotate(-90)">Signal Amplitude</text>
<rect x="20.3" y="511.6" width="460.7" height="211.0" fill="#a0a0a0"/>
<rect x="20.3" y="511.6" width="11.8" height="211.0" fill="url(#gPL)"/>
<rect x="469.0" y="511.6" width="12" height="211.0" fill="url(#gPR)"/>
<rect x="20.3" y="511.6" width="460.7" height="1.6" fill="#b6b6b6" opacity="0.8"/>
<path d="M20.3,722.6 L31.3,721.0 L480,721.0 L481,722.6 Z" fill="#6c6c6c"/>
<rect x="20" y="497" width="220.4" height="17.6" fill="#99ccff"/>
<text x="21.20" y="510.95" font-size="13.6" fill="#0000ff" font-weight="bold" textLength="216.90" lengthAdjust="spacingAndGlyphs" >Specific Reaction Rate miu (1/h).</text>
<rect x="69.0" y="518.9" width="393.8" height="165.8" fill="#ffffff"/>
<path d="M69.0,522.1H461.8M69.0,528.5H461.8M69.0,534.9H461.8M69.0,541.2H461.8M69.0,554.0H461.8M69.0,560.3H461.8M69.0,566.7H461.8M69.0,573.1H461.8M69.0,585.8H461.8M69.0,592.2H461.8M69.0,598.6H461.8M69.0,604.9H461.8M69.0,617.7H461.8M69.0,624.0H461.8M69.0,630.4H461.8M69.0,636.8H461.8M69.0,649.5H461.8M69.0,655.9H461.8M69.0,662.3H461.8M69.0,668.6H461.8M69.0,681.4H461.8" stroke="#d8d8d8" stroke-width="1" fill="none"/>
<path d="M69.0,547.6H461.8M69.0,579.4H461.8M69.0,611.3H461.8M69.0,643.1H461.8M69.0,675.0H461.8" stroke="#b4b4b4" stroke-width="1.15" fill="none"/>
<path d="M108.5,518.9V684.7M147.8,518.9V684.7M187.0,518.9V684.7M226.2,518.9V684.7M265.5,518.9V684.7M304.7,518.9V684.7M343.9,518.9V684.7M383.1,518.9V684.7M422.4,518.9V684.7" stroke="#bcbcbc" stroke-width="1.3" fill="none"/>
<path d="M77.1,606.1V616.1M85.0,606.1V616.1M92.8,606.1V616.1M100.7,606.1V616.1M115.6,606.1V616.1M122.8,606.1V616.1M133.4,606.1V616.1M140.7,606.1V616.1M155.6,606.1V616.1M163.5,606.1V616.1M171.3,606.1V616.1M179.1,606.1V616.1M194.8,606.1V616.1M202.7,606.1V616.1M210.5,606.1V616.1M218.4,606.1V616.1M234.1,606.1V616.1M241.9,606.1V616.1M249.8,606.1V616.1M257.6,606.1V616.1M272.5,606.1V616.1M279.8,606.1V616.1M290.4,606.1V616.1M297.6,606.1V616.1M312.5,606.1V616.1M320.4,606.1V616.1M328.2,606.1V616.1M336.1,606.1V616.1M351.8,606.1V616.1M359.6,606.1V616.1M367.4,606.1V616.1M375.3,606.1V616.1M390.2,606.1V616.1M397.5,606.1V616.1M408.1,606.1V616.1M415.3,606.1V616.1M430.2,606.1V616.1M438.1,606.1V616.1M445.9,606.1V616.1M453.8,606.1V616.1" stroke="#c4c4c4" stroke-width="1" fill="none"/>
<clipPath id="cp69_518"><rect x="69.0" y="518.9" width="393.8" height="165.8"/></clipPath>
<path d="M69.3,592.5C69.5,589.1 70.1,579.4 70.7,572.4C71.3,565.5 71.9,557.3 72.6,550.7C73.4,544.0 74.4,537.0 75.3,532.5C76.2,528.1 77.1,525.8 78.0,524.1C78.8,522.4 79.5,522.0 80.4,522.2C81.3,522.4 82.3,523.4 83.3,525.3C84.2,527.2 85.1,530.7 86.2,533.8C87.3,536.8 88.4,540.2 89.8,543.4C91.2,546.6 92.8,550.1 94.6,553.1C96.4,556.1 98.3,558.7 100.7,561.6C103.1,564.4 106.1,567.8 109.1,570.0C112.2,572.2 115.4,573.4 118.8,574.8C122.2,576.3 126.3,577.6 129.7,578.5C133.1,579.4 136.1,579.8 139.4,580.2C142.6,580.5 145.4,580.3 149.0,580.6C152.6,581.0 157.1,581.7 161.1,582.1C165.1,582.5 169.2,582.8 173.2,583.3C177.2,583.8 181.2,584.6 185.3,585.2C189.3,585.9 193.7,586.5 197.4,587.2C201.0,587.8 203.4,588.7 207.0,589.1C210.7,589.6 215.1,589.6 219.1,589.8C223.1,590.0 226.4,590.2 231.2,590.3C236.0,590.4 243.3,590.5 248.1,590.6C252.9,590.6 256.6,590.6 260.0,590.8C263.4,590.9 262.0,591.3 268.5,591.5C274.9,591.7 290.8,591.6 298.7,591.7C306.5,591.9 310.7,592.0 315.6,592.2C320.4,592.5 323.6,592.9 327.7,593.2C331.7,593.5 336.3,593.8 339.7,594.2C343.2,594.5 344.2,594.8 348.2,595.1C352.2,595.5 358.1,595.9 363.9,596.1C369.8,596.3 374.8,596.3 383.2,596.3C391.7,596.4 405.8,596.4 414.7,596.6C423.5,596.8 428.6,597.3 436.4,597.5C444.3,597.8 457.6,598.2 461.8,598.3" stroke="#ff1010" stroke-width="1.0" fill="none" stroke-linejoin="round" clip-path="url(#cp69_518)"/>
<text x="61.40" y="523.75" font-size="11" fill="#1c1c1c" text-anchor="end" textLength="13.38" lengthAdjust="spacingAndGlyphs" >0.3</text>
<text x="61.40" y="551.55" font-size="11" fill="#1c1c1c" text-anchor="end" textLength="13.38" lengthAdjust="spacingAndGlyphs" >0.2</text>
<text x="61.40" y="583.45" font-size="11" fill="#1c1c1c" text-anchor="end" textLength="13.38" lengthAdjust="spacingAndGlyphs" >0.1</text>
<text x="61.40" y="615.15" font-size="11" fill="#1c1c1c" text-anchor="end" textLength="16.59" lengthAdjust="spacingAndGlyphs" >-0.0</text>
<text x="61.40" y="647.05" font-size="11" fill="#1c1c1c" text-anchor="end" textLength="16.59" lengthAdjust="spacingAndGlyphs" >-0.1</text>
<text x="61.40" y="688.15" font-size="11" fill="#1c1c1c" text-anchor="end" textLength="16.59" lengthAdjust="spacingAndGlyphs" >-0.2</text>
<text x="69.30" y="699.50" font-size="11" fill="#1c1c1c" text-anchor="middle" textLength="5.26" lengthAdjust="spacingAndGlyphs" >0</text>
<text x="108.53" y="699.50" font-size="11" fill="#1c1c1c" text-anchor="middle" textLength="10.52" lengthAdjust="spacingAndGlyphs" >10</text>
<text x="147.76" y="699.50" font-size="11" fill="#1c1c1c" text-anchor="middle" textLength="10.52" lengthAdjust="spacingAndGlyphs" >20</text>
<text x="186.99" y="699.50" font-size="11" fill="#1c1c1c" text-anchor="middle" textLength="10.52" lengthAdjust="spacingAndGlyphs" >30</text>
<text x="226.22" y="699.50" font-size="11" fill="#1c1c1c" text-anchor="middle" textLength="10.52" lengthAdjust="spacingAndGlyphs" >40</text>
<text x="265.45" y="699.50" font-size="11" fill="#1c1c1c" text-anchor="middle" textLength="10.52" lengthAdjust="spacingAndGlyphs" >50</text>
<text x="304.68" y="699.50" font-size="11" fill="#1c1c1c" text-anchor="middle" textLength="10.52" lengthAdjust="spacingAndGlyphs" >60</text>
<text x="343.91" y="699.50" font-size="11" fill="#1c1c1c" text-anchor="middle" textLength="10.52" lengthAdjust="spacingAndGlyphs" >70</text>
<text x="383.14" y="699.50" font-size="11" fill="#1c1c1c" text-anchor="middle" textLength="10.52" lengthAdjust="spacingAndGlyphs" >80</text>
<text x="422.37" y="699.50" font-size="11" fill="#1c1c1c" text-anchor="middle" textLength="10.52" lengthAdjust="spacingAndGlyphs" >90</text>
<text x="461.60" y="699.50" font-size="11" fill="#1c1c1c" text-anchor="middle" textLength="15.78" lengthAdjust="spacingAndGlyphs" >100</text>
<path d="M63.2,519.9H67.5M63.2,547.7H67.5M63.2,579.6H67.5M63.2,611.3H67.5M63.2,643.2H67.5M63.2,684.3H67.5M69.3,685.5V689.9M108.5,685.5V689.9M147.8,685.5V689.9M187.0,685.5V689.9M226.2,685.5V689.9M265.5,685.5V689.9M304.7,685.5V689.9M343.9,685.5V689.9M383.1,685.5V689.9M422.4,685.5V689.9M461.6,685.5V689.9" stroke="#262626" stroke-width="1.1" fill="none"/>
<text x="265.95" y="714.20" font-size="10.8" fill="#1c1c1c" text-anchor="middle" textLength="41.00" lengthAdjust="spacingAndGlyphs" >Time [min]</text>
<text x="0.00" y="0.00" font-size="10.8" fill="#1c1c1c" text-anchor="middle" textLength="68.80" lengthAdjust="spacingAndGlyphs" transform="translate(40.1,601.8) rotate(-90)">Signal Amplitude</text>
<rect x="503.2" y="511" width="467.0" height="211.6" fill="#a0a0a0"/>
<rect x="503.2" y="511" width="11.8" height="211.6" fill="url(#gPL)"/>
<rect x="958.2" y="511" width="12" height="211.6" fill="url(#gPR)"/>
<rect x="503.2" y="511" width="467.0" height="1.6" fill="#b6b6b6" opacity="0.8"/>
<path d="M503.2,722.6 L514.2,721.0 L969.2,721.0 L970.2,722.6 Z" fill="#6c6c6c"/>
<rect x="503" y="497" width="427.0" height="17.3" fill="#99ccff"/>
<text x="504.40" y="510.35" font-size="13.6" fill="#0000ff" font-weight="bold" textLength="422.40" lengthAdjust="spacingAndGlyphs" >Influent Substrate Concentration CSin vs. CSin - estimate (mg/l).</text>
<rect x="559.9" y="517.8" width="392.6" height="167.6" fill="#ffffff"/>
<path d="M559.9,535.5H951.5M559.9,554.3H951.5M559.9,573.1H951.5M559.9,591.9H951.5M559.9,610.7H951.5M559.9,629.5H951.5M559.9,648.3H951.5M559.9,667.1H951.5" stroke="#d8d8d8" stroke-width="1" fill="none"/>
<path d="M559.9,526.1H951.5M559.9,544.9H951.5M559.9,563.7H951.5M559.9,582.5H951.5M559.9,601.3H951.5M559.9,620.1H951.5M559.9,638.9H951.5M559.9,657.7H951.5M559.9,676.5H951.5" stroke="#b4b4b4" stroke-width="1.15" fill="none"/>
<path d="M599.4,517.8V685.4M638.6,517.8V685.4M677.7,517.8V685.4M716.9,517.8V685.4M756.0,517.8V685.4M795.1,517.8V685.4M834.3,517.8V685.4M873.4,517.8V685.4M912.6,517.8V685.4" stroke="#bcbcbc" stroke-width="1.3" fill="none"/>
<clipPath id="cp559_517"><rect x="559.9" y="517.8" width="392.6" height="167.6"/></clipPath>
<path d="M560.3,595.8L561.1,591.2L561.9,586.7L562.6,582.4L563.4,578.5L564.2,575.2L565.0,572.4L565.8,570.4L566.6,569.1L567.3,568.7L568.2,569.1L569.0,570.4L569.8,572.4L570.6,575.1L571.4,578.3L572.2,581.8L573.0,585.4L573.8,588.9L574.7,592.1L575.5,594.7L576.3,596.8L577.1,598.1L577.9,598.5L578.7,598.0L579.5,596.6L580.3,594.3L581.0,591.1L581.8,587.2L582.6,582.8L583.4,577.8L584.2,572.5L585.0,567.0L585.7,561.5L586.5,556.2L587.3,551.3L588.1,546.8L588.9,542.9L589.7,539.7L590.4,537.4L591.2,536.0L592.0,535.5L592.8,535.9L593.6,536.8L594.4,538.4L595.1,540.5L595.9,543.0L596.7,545.9L597.5,549.0L598.3,552.1L599.0,555.2L599.8,558.1L600.6,560.6L601.4,562.7L602.2,564.3L603.0,565.3L603.7,565.6L604.5,565.4L605.3,564.9L606.1,564.2L606.9,563.4L607.7,562.7L608.4,562.2L609.2,562.0L610.0,562.4L610.8,563.5L611.6,565.3L612.4,567.7L613.1,570.7L613.9,574.3L614.7,578.3L615.5,582.6L616.3,587.1L617.1,591.8L617.8,596.4L618.6,601.0L619.4,605.3L620.2,609.3L621.0,612.8L621.7,615.8L622.5,618.3L623.3,620.1L624.1,621.2L624.9,621.5L625.7,621.1L626.4,619.7L627.2,617.5L628.0,614.5L628.8,610.9L629.6,606.8L630.4,602.5L631.1,598.0L631.9,593.7L632.7,589.6L633.5,586.0L634.3,583.0L635.1,580.8L635.8,579.4L636.6,578.9L637.5,579.5L638.3,581.0L639.1,583.5L639.9,586.8L640.8,590.9L641.6,595.6L642.4,600.7L643.3,605.9L644.1,611.2L644.9,616.2L645.8,620.9L646.6,625.0L647.4,628.3L648.3,630.8L649.1,632.4L649.9,632.9L650.7,632.6L651.5,631.7L652.3,630.2L653.1,628.3L653.8,625.9L654.6,623.3L655.4,620.4L656.2,617.5L657.0,614.7L657.8,612.0L658.5,609.7L659.3,607.7L660.1,606.3L660.9,605.4L661.7,605.1L662.5,605.3L663.2,606.1L664.0,607.2L664.8,608.7L665.6,610.3L666.4,612.0L667.2,613.4L667.9,614.6L668.7,615.3L669.5,615.6L670.3,615.2L671.1,614.1L671.8,612.2L672.6,609.8L673.4,606.7L674.2,603.3L675.0,599.5L675.8,595.6L676.5,591.7L677.3,588.0L678.1,584.5L678.9,581.5L679.7,579.0L680.5,577.2L681.2,576.0L682.0,575.7L682.9,576.2L683.7,578.0L684.5,580.7L685.4,584.5L686.2,589.1L687.0,594.3L687.8,600.0L688.7,605.9L689.5,611.8L690.3,617.4L691.2,622.7L692.0,627.2L692.8,631.0L693.7,633.8L694.5,635.5L695.3,636.1L696.1,635.6L696.9,634.3L697.7,632.2L698.5,629.4L699.2,625.9L700.0,621.9L700.8,617.6L701.6,613.2L702.4,608.7L703.2,604.4L703.9,600.4L704.7,596.9L705.5,594.1L706.3,592.0L707.1,590.7L707.9,590.2L708.7,590.5L709.5,591.4L710.3,592.9L711.1,594.8L711.9,597.1L712.7,599.7L713.5,602.3L714.3,605.0L715.2,607.6L716.0,609.9L716.8,611.8L717.6,613.3L718.4,614.2L719.2,614.5L720.0,614.2L720.8,613.3L721.7,611.9L722.5,610.0L723.3,607.9L724.1,605.5L724.9,603.2L725.7,601.1L726.5,599.2L727.4,597.8L728.2,596.9L729.0,596.6L729.8,597.0L730.7,598.2L731.5,600.1L732.4,602.7L733.2,605.7L734.1,608.9L734.9,612.3L735.7,615.6L736.6,618.6L737.4,621.1L738.3,623.0L739.1,624.2L740.0,624.6L740.8,624.1L741.6,622.5L742.4,619.9L743.2,616.3L744.0,611.9L744.8,606.8L745.6,601.2L746.4,595.2L747.2,589.0L748.0,582.8L748.8,576.8L749.6,571.2L750.4,566.1L751.2,561.7L752.0,558.2L752.8,555.5L753.6,553.9L754.4,553.4L755.2,553.8L756.0,555.1L756.9,557.3L757.7,560.2L758.5,563.7L759.3,567.7L760.1,572.0L760.9,576.5L761.7,581.0L762.5,585.4L763.3,589.3L764.1,592.9L764.9,595.7L765.7,597.9L766.5,599.2L767.4,599.6L768.2,599.3L769.0,598.5L769.8,597.2L770.6,595.4L771.4,593.4L772.2,591.2L773.1,589.0L773.9,587.0L774.7,585.3L775.5,583.9L776.3,583.1L777.1,582.8L778.0,583.1L778.8,584.2L779.6,585.8L780.4,588.0L781.3,590.6L782.1,593.5L782.9,596.6L783.7,599.6L784.6,602.5L785.4,605.2L786.2,607.3L787.0,609.0L787.9,610.0L788.7,610.3L789.5,610.0L790.2,609.2L791.0,607.8L791.8,606.0L792.6,603.8L793.4,601.5L794.2,599.1L794.9,596.7L795.7,594.6L796.5,592.8L797.3,591.4L798.1,590.5L798.9,590.2L799.7,590.8L800.5,592.5L801.3,595.2L802.1,599.0L802.9,603.6L803.8,609.0L804.6,614.9L805.4,621.2L806.2,627.7L807.0,634.2L807.8,640.6L808.6,646.5L809.5,651.8L810.3,656.5L811.1,660.2L811.9,663.0L812.7,664.7L813.5,665.2L814.3,664.8L815.1,663.4L815.9,661.2L816.7,658.2L817.4,654.5L818.2,650.3L819.0,645.8L819.8,641.1L820.6,636.4L821.4,631.9L822.1,627.7L822.9,624.1L823.7,621.1L824.5,618.8L825.3,617.5L826.1,617.0L826.9,617.3L827.8,618.1L828.6,619.3L829.5,621.0L830.3,622.9L831.1,625.0L832.0,627.0L832.8,628.9L833.7,630.6L834.5,631.8L835.4,632.6L836.2,632.9L837.0,632.5L837.9,631.4L838.7,629.6L839.5,627.3L840.3,624.5L841.1,621.4L841.9,618.3L842.7,615.3L843.6,612.5L844.4,610.1L845.2,608.4L846.0,607.2L846.8,606.9L847.6,607.2L848.4,608.2L849.2,609.9L850.0,612.1L850.9,614.8L851.7,617.7L852.5,620.8L853.3,623.9L854.1,626.9L854.9,629.5L855.7,631.7L856.5,633.4L857.3,634.4L858.2,634.8L859.0,634.2L859.8,632.6L860.6,630.0L861.4,626.5L862.3,622.2L863.1,617.3L863.9,611.9L864.7,606.4L865.5,600.9L866.4,595.5L867.2,590.6L868.0,586.3L868.8,582.8L869.6,580.2L870.4,578.6L871.3,578.0L872.1,578.5L872.9,580.1L873.7,582.6L874.5,586.0L875.3,590.3L876.2,595.2L877.0,600.6L877.8,606.4L878.6,612.3L879.4,618.3L880.2,624.0L881.1,629.5L881.9,634.4L882.7,638.6L883.5,642.0L884.3,644.5L885.1,646.1L885.9,646.6L886.8,646.4L887.6,645.6L888.4,644.5L889.2,643.1L890.1,641.6L890.9,640.2L891.7,639.1L892.6,638.3L893.4,638.1L894.2,638.4L895.0,639.4L895.8,641.0L896.6,643.1L897.4,645.7L898.2,648.7L899.0,651.8L899.7,655.0L900.5,658.2L901.3,661.1L902.1,663.7L902.9,665.9L903.7,667.5L904.5,668.5L905.3,668.8L906.1,668.5L906.9,667.4L907.7,665.8L908.5,663.6L909.3,660.9L910.1,657.9L910.9,654.6L911.7,651.3L912.5,648.1L913.3,645.0L914.1,642.4L914.9,640.1L915.7,638.5L916.5,637.5L917.3,637.1L918.0,637.6L918.8,639.2L919.6,641.6L920.4,644.9L921.2,648.9L922.0,653.4L922.7,658.2L923.5,663.1L924.3,667.9L925.1,672.4L925.9,676.3L926.7,679.6L927.4,682.1L928.2,683.6L929.0,684.1L929.8,683.6L930.6,682.2L931.4,679.8L932.2,676.6L933.0,672.6L933.8,667.9L934.6,662.7L935.4,657.0L936.2,651.0L937.0,644.8L937.8,638.7L938.6,632.7L939.4,627.0L940.2,621.7L941.0,617.1L941.8,613.0L942.6,609.8L943.4,607.5L944.2,606.0L945.0,605.5L945.9,605.8L946.7,606.3L947.5,607.2L948.4,608.3L949.2,609.3L950.0,610.2L950.9,610.8L951.7,611.0" stroke="#ff1010" stroke-width="0.95" fill="none" stroke-linejoin="round" clip-path="url(#cp559_517)"/>
<path d="M560.8,608.8L560.8,635.2L561.6,635.2L562.3,622.0L562.8,591.0L564.6,578.3L566.2,570.8L567.2,570.4L568.0,569.1L568.8,568.7L569.6,569.1L570.4,570.4L571.2,572.4L572.0,575.1L572.8,578.3L573.6,581.8L574.4,585.4L575.3,588.9L576.1,592.1L576.9,594.7L577.7,596.8L578.5,598.1L579.3,598.5L580.1,598.0L580.9,596.6L581.7,594.3L582.5,591.1L583.2,587.2L584.0,582.8L584.8,577.8L585.6,572.5L586.4,567.0L587.2,561.5L587.9,556.2L588.7,551.3L589.5,546.8L590.3,542.9L591.1,539.7L591.8,537.4L592.6,536.0L593.4,535.5L594.2,535.9L595.0,536.8L595.8,538.4L596.5,540.5L597.3,543.0L598.1,545.9L598.9,549.0L599.7,552.1L600.5,555.2L601.2,558.1L602.0,560.6L602.8,562.7L603.6,564.3L604.4,565.3L605.2,565.6L605.9,565.4L606.7,564.9L607.5,564.2L608.3,563.4L609.1,562.7L609.9,562.2L610.6,562.0L611.4,562.4L612.2,563.5L613.0,565.3L613.8,567.7L614.5,570.7L615.3,574.3L616.1,578.3L616.9,582.6L617.7,587.1L618.5,591.8L619.2,596.4L620.0,601.0L620.8,605.3L621.6,609.3L622.4,612.8L623.2,615.8L623.9,618.3L624.7,620.1L625.5,621.2L626.3,621.5L627.1,621.1L627.9,619.7L628.6,617.5L629.4,614.5L630.2,610.9L631.0,606.8L631.8,602.5L632.6,598.0L633.3,593.7L634.1,589.6L634.9,586.0L635.7,583.0L636.5,580.8L637.2,579.4L638.0,578.9L638.9,579.5L639.7,581.0L640.5,583.5L641.4,586.8L642.2,590.9L643.0,595.6L643.9,600.7L644.7,605.9L645.5,611.2L646.3,616.2L647.2,620.9L648.0,625.0L648.8,628.3L649.7,630.8L650.5,632.4L651.3,632.9L652.1,632.6L652.9,631.7L653.7,630.2L654.5,628.3L655.3,625.9L656.0,623.3L656.8,620.4L657.6,617.5L658.4,614.7L659.2,612.0L660.0,609.7L660.7,607.7L661.5,606.3L662.3,605.4L663.1,605.1L663.9,605.3L664.6,606.1L665.4,607.2L666.2,608.7L667.0,610.3L667.8,612.0L668.6,613.4L669.3,614.6L670.1,615.3L670.9,615.6L671.7,615.2L672.5,614.1L673.3,612.2L674.0,609.8L674.8,606.7L675.6,603.3L676.4,599.5L677.2,595.6L678.0,591.7L678.7,588.0L679.5,584.5L680.3,581.5L681.1,579.0L681.9,577.2L682.7,576.0L683.4,575.7L684.3,576.2L685.1,578.0L685.9,580.7L686.8,584.5L687.6,589.1L688.4,594.3L689.3,600.0L690.1,605.9L690.9,611.8L691.8,617.4L692.6,622.7L693.4,627.2L694.2,631.0L695.1,633.8L695.9,635.5L696.7,636.1L697.5,635.6L698.3,634.3L699.1,632.2L699.9,629.4L700.7,625.9L701.4,621.9L702.2,617.6L703.0,613.2L703.8,608.7L704.6,604.4L705.4,600.4L706.1,596.9L706.9,594.1L707.7,592.0L708.5,590.7L709.3,590.2L710.1,590.5L710.9,591.4L711.7,592.9L712.5,594.8L713.3,597.1L714.1,599.7L714.9,602.3L715.8,605.0L716.6,607.6L717.4,609.9L718.2,611.8L719.0,613.3L719.8,614.2L720.6,614.5L721.4,614.2L722.2,613.3L723.1,611.9L723.9,610.0L724.7,607.9L725.5,605.5L726.3,603.2L727.1,601.1L728.0,599.2L728.8,597.8L729.6,596.9L730.4,596.6L731.2,597.0L732.1,598.2L732.9,600.1L733.8,602.7L734.6,605.7L735.5,608.9L736.3,612.3L737.1,615.6L738.0,618.6L738.8,621.1L739.7,623.0L740.5,624.2L741.4,624.6L742.2,624.1L743.0,622.5L743.8,619.9L744.6,616.3L745.4,611.9L746.2,606.8L747.0,601.2L747.8,595.2L748.6,589.0L749.4,582.8L750.2,576.8L751.0,571.2L751.8,566.1L752.6,561.7L753.4,558.2L754.2,555.5L755.0,553.9L755.8,553.4L756.7,553.8L757.5,555.1L758.3,557.3L759.1,560.2L759.9,563.7L760.7,567.7L761.5,572.0L762.3,576.5L763.1,581.0L763.9,585.4L764.7,589.3L765.5,592.9L766.3,595.7L767.1,597.9L768.0,599.2L768.8,599.6L769.6,599.3L770.4,598.5L771.2,597.2L772.0,595.4L772.8,593.4L773.7,591.2L774.5,589.0L775.3,587.0L776.1,585.3L776.9,583.9L777.7,583.1L778.5,582.8L779.4,583.1L780.2,584.2L781.0,585.8L781.8,588.0L782.7,590.6L783.5,593.5L784.3,596.6L785.1,599.6L786.0,602.5L786.8,605.2L787.6,607.3L788.4,609.0L789.3,610.0L790.1,610.3L790.9,610.0L791.7,609.2L792.4,607.8L793.2,606.0L794.0,603.8L794.8,601.5L795.6,599.1L796.4,596.7L797.1,594.6L797.9,592.8L798.7,591.4L799.5,590.5L800.3,590.2L801.1,590.8L801.9,592.5L802.7,595.2L803.5,599.0L804.3,603.6L805.2,609.0L806.0,614.9L806.8,621.2L807.6,627.7L808.4,634.2L809.2,640.6L810.1,646.5L810.9,651.8L811.7,656.5L812.5,660.2L813.3,663.0L814.1,664.7L814.9,665.2L815.7,664.8L816.5,663.4L817.3,661.2L818.1,658.2L818.9,654.5L819.6,650.3L820.4,645.8L821.2,641.1L822.0,636.4L822.8,631.9L823.6,627.7L824.3,624.1L825.1,621.1L825.9,618.8L826.7,617.5L827.5,617.0L828.3,617.3L829.2,618.1L830.0,619.3L830.9,621.0L831.7,622.9L832.6,625.0L833.4,627.0L834.3,628.9L835.1,630.6L835.9,631.8L836.8,632.6L837.6,632.9L838.5,632.5L839.3,631.4L840.1,629.6L840.9,627.3L841.7,624.5L842.5,621.4L843.3,618.3L844.1,615.3L845.0,612.5L845.8,610.1L846.6,608.4L847.4,607.2L848.2,606.9L849.0,607.2L849.8,608.2L850.6,609.9L851.5,612.1L852.3,614.8L853.1,617.7L853.9,620.8L854.7,623.9L855.5,626.9L856.3,629.5L857.1,631.7L857.9,633.4L858.8,634.4L859.6,634.8L860.4,634.2L861.2,632.6L862.0,630.0L862.8,626.5L863.7,622.2L864.5,617.3L865.3,611.9L866.1,606.4L866.9,600.9L867.8,595.5L868.6,590.6L869.4,586.3L870.2,582.8L871.0,580.2L871.9,578.6L872.7,578.0L873.5,578.5L874.3,580.1L875.1,582.6L875.9,586.0L876.8,590.3L877.6,595.2L878.4,600.6L879.2,606.4L880.0,612.3L880.8,618.3L881.6,624.0L882.5,629.5L883.3,634.4L884.1,638.6L884.9,642.0L885.7,644.5L886.5,646.1L887.4,646.6L888.2,646.4L889.0,645.6L889.8,644.5L890.7,643.1L891.5,641.6L892.3,640.2L893.1,639.1L894.0,638.3L894.8,638.1L895.6,638.4L896.4,639.4L897.2,641.0L898.0,643.1L898.8,645.7L899.6,648.7L900.4,651.8L901.2,655.0L902.0,658.2L902.7,661.1L903.5,663.7L904.3,665.9L905.1,667.5L905.9,668.5L906.7,668.8L907.5,668.5L908.3,667.4L909.1,665.8L909.9,663.6L910.7,660.9L911.5,657.9L912.3,654.6L913.1,651.3L913.9,648.1L914.7,645.0L915.5,642.4L916.3,640.1L917.1,638.5L917.9,637.5L918.7,637.1L919.4,637.6L920.2,639.2L921.0,641.6L921.8,644.9L922.6,648.9L923.4,653.4L924.1,658.2L924.9,663.1L925.7,667.9L926.5,672.4L927.3,676.3L928.1,679.6L928.8,682.1L929.6,683.6L930.4,684.1L931.2,683.6L932.0,682.2L932.8,679.8L933.6,676.6L934.4,672.6L935.2,667.9L936.0,662.7L936.8,657.0L937.6,651.0L938.4,644.8L939.2,638.7L940.0,632.7L940.8,627.0L941.6,621.7L942.4,617.1L943.2,613.0L944.0,609.8L944.9,607.5L945.7,606.0L946.5,605.5L947.3,605.8L948.1,606.3L949.0,607.2L949.8,608.3L950.6,609.3L951.4,610.2L952.3,610.8" stroke="#1414ff" stroke-width="1.05" fill="none" stroke-linejoin="round" clip-path="url(#cp559_517)"/>
<text x="552.30" y="522.55" font-size="11" fill="#1c1c1c" text-anchor="end" textLength="24.09" lengthAdjust="spacingAndGlyphs" >847.9</text>
<text x="552.30" y="548.77" font-size="11" fill="#1c1c1c" text-anchor="end" textLength="24.09" lengthAdjust="spacingAndGlyphs" >820.0</text>
<text x="552.30" y="567.57" font-size="11" fill="#1c1c1c" text-anchor="end" textLength="24.09" lengthAdjust="spacingAndGlyphs" >800.0</text>
<text x="552.30" y="586.37" font-size="11" fill="#1c1c1c" text-anchor="end" textLength="24.09" lengthAdjust="spacingAndGlyphs" >780.0</text>
<text x="552.30" y="605.17" font-size="11" fill="#1c1c1c" text-anchor="end" textLength="24.09" lengthAdjust="spacingAndGlyphs" >760.0</text>
<text x="552.30" y="623.96" font-size="11" fill="#1c1c1c" text-anchor="end" textLength="24.09" lengthAdjust="spacingAndGlyphs" >740.0</text>
<text x="552.30" y="642.76" font-size="11" fill="#1c1c1c" text-anchor="end" textLength="24.09" lengthAdjust="spacingAndGlyphs" >720.0</text>
<text x="552.30" y="661.56" font-size="11" fill="#1c1c1c" text-anchor="end" textLength="24.09" lengthAdjust="spacingAndGlyphs" >700.0</text>
<text x="552.30" y="688.25" font-size="11" fill="#1c1c1c" text-anchor="end" textLength="24.09" lengthAdjust="spacingAndGlyphs" >671.6</text>
<text x="560.30" y="700.20" font-size="11" fill="#1c1c1c" text-anchor="middle" textLength="5.26" lengthAdjust="spacingAndGlyphs" >0</text>
<text x="599.44" y="700.20" font-size="11" fill="#1c1c1c" text-anchor="middle" textLength="10.52" lengthAdjust="spacingAndGlyphs" >10</text>
<text x="638.58" y="700.20" font-size="11" fill="#1c1c1c" text-anchor="middle" textLength="10.52" lengthAdjust="spacingAndGlyphs" >20</text>
<text x="677.72" y="700.20" font-size="11" fill="#1c1c1c" text-anchor="middle" textLength="10.52" lengthAdjust="spacingAndGlyphs" >30</text>
<text x="716.86" y="700.20" font-size="11" fill="#1c1c1c" text-anchor="middle" textLength="10.52" lengthAdjust="spacingAndGlyphs" >40</text>
<text x="756.00" y="700.20" font-size="11" fill="#1c1c1c" text-anchor="middle" textLength="10.52" lengthAdjust="spacingAndGlyphs" >50</text>
<text x="795.14" y="700.20" font-size="11" fill="#1c1c1c" text-anchor="middle" textLength="10.52" lengthAdjust="spacingAndGlyphs" >60</text>
<text x="834.28" y="700.20" font-size="11" fill="#1c1c1c" text-anchor="middle" textLength="10.52" lengthAdjust="spacingAndGlyphs" >70</text>
<text x="873.42" y="700.20" font-size="11" fill="#1c1c1c" text-anchor="middle" textLength="10.52" lengthAdjust="spacingAndGlyphs" >80</text>
<text x="912.56" y="700.20" font-size="11" fill="#1c1c1c" text-anchor="middle" textLength="10.52" lengthAdjust="spacingAndGlyphs" >90</text>
<text x="951.70" y="700.20" font-size="11" fill="#1c1c1c" text-anchor="middle" textLength="15.78" lengthAdjust="spacingAndGlyphs" >100</text>
<path d="M554.1,518.7H558.4M554.1,544.9H558.4M554.1,563.7H558.4M554.1,582.5H558.4M554.1,601.3H558.4M554.1,620.1H558.4M554.1,638.9H558.4M554.1,657.7H558.4M554.1,684.4H558.4M560.3,686.2V690.6M599.4,686.2V690.6M638.6,686.2V690.6M677.7,686.2V690.6M716.9,686.2V690.6M756.0,686.2V690.6M795.1,686.2V690.6M834.3,686.2V690.6M873.4,686.2V690.6M912.6,686.2V690.6M951.7,686.2V690.6" stroke="#262626" stroke-width="1.1" fill="none"/>
<text x="756.50" y="714.90" font-size="10.8" fill="#1c1c1c" text-anchor="middle" textLength="41.00" lengthAdjust="spacingAndGlyphs" >Time [min]</text>
<text x="0.00" y="0.00" font-size="10.8" fill="#1c1c1c" text-anchor="middle" textLength="68.80" lengthAdjust="spacingAndGlyphs" transform="translate(523.0,601.6) rotate(-90)">Signal Amplitude</text>
</svg>
</body>
</html>
